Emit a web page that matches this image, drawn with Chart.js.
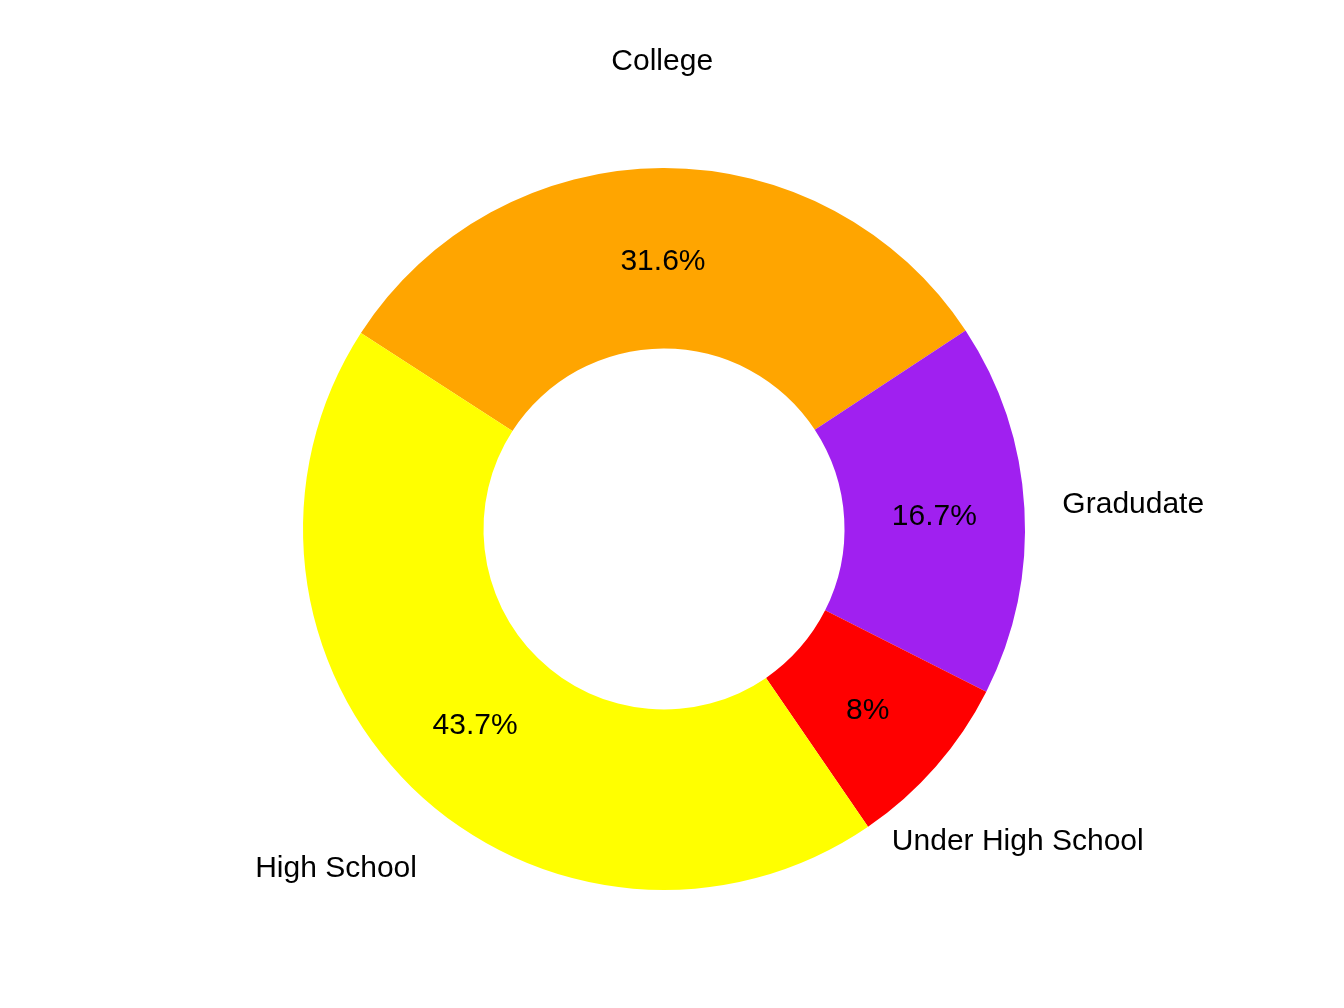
<!DOCTYPE html>
<html>
<head>
<meta charset="utf-8">
<script src="https://cdn.jsdelivr.net/npm/chart.js@4"></script>
<style>
  html, body { margin: 0; padding: 0; background: #fff; }
  #wrap { width: 1344px; height: 1008px; }
</style>
</head>
<body>
<div id="wrap"><canvas id="chart"></canvas></div>
<script>
const categories = ["College", "Graduate", "Under High School", "High School"];
const outerLabels = ["College", "Gradudate", "Under High School", "High School"];
const shares = [31.6, 16.7, 8, 43.7];
const sliceColors = ["#FFA500", "#A020F0", "#FF0000", "#FFFF00"];

const ctx = document.getElementById("chart");

// draws the percent text inside each slice and the category name outside
const sliceText = {
  id: "sliceText",
  afterDatasetsDraw(chart) {
    const g = chart.ctx;
    const meta = chart.getDatasetMeta(0);
    g.save();
    g.font = "30px 'Liberation Sans', Arial, sans-serif";
    g.fillStyle = "#000";
    g.textAlign = "center";
    g.textBaseline = "middle";
    meta.data.forEach((arc, i) => {
      const p = arc.getProps(["x", "y", "startAngle", "endAngle", "innerRadius", "outerRadius"], true);
      const mid = (p.startAngle + p.endAngle) / 2;
      const rIn = (p.innerRadius + p.outerRadius) / 2;
      g.fillText(shares[i] + "%", p.x + Math.cos(mid) * rIn, p.y + Math.sin(mid) * rIn + 3);
      const rOut = p.outerRadius * 1.302;
      g.fillText(outerLabels[i], p.x + Math.cos(mid) * rOut, p.y + Math.sin(mid) * rOut + 3);
    });
    g.restore();
  },
};

const myChart = new Chart(ctx, {
  type: "doughnut",
  data: {
    labels: categories,
    datasets: [
      {
        data: shares,
        backgroundColor: sliceColors,
        borderWidth: 0,
      },
    ],
  },
  options: {
    responsive: true,
    maintainAspectRatio: false,
    animation: false,
    cutout: "50%",
    rotation: -57.1,
    layout: {
      padding: { left: 303, right: 319, top: 168, bottom: 118 },
    },
    plugins: {
      legend: { display: false },
      tooltip: { enabled: false },
    },
  },
  plugins: [sliceText],
});
</script>
</body>
</html>
